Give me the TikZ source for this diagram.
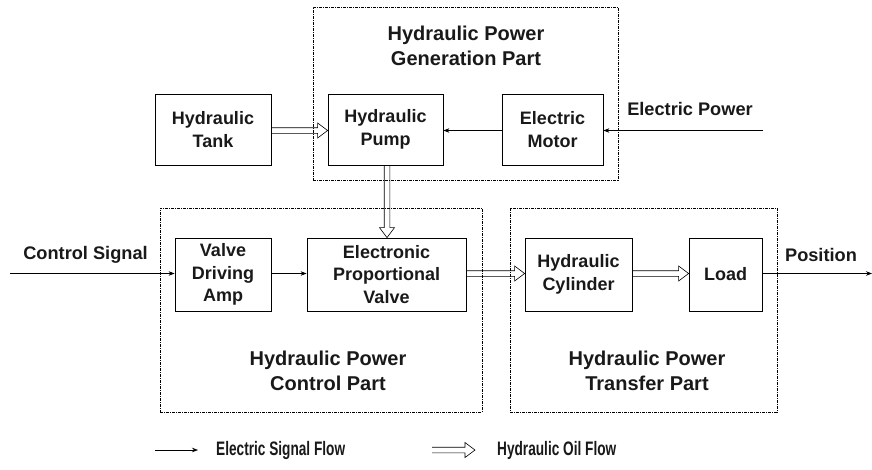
\documentclass[tikz,border=0pt]{standalone}
\usepackage{fontspec}
\setmainfont{Liberation Sans}
\usetikzlibrary{arrows.meta,calc}
\begin{document}
\begin{tikzpicture}[x=1pt,y=-1pt,
  txt/.style={font=\bfseries\fontsize{18.2}{22.5}\selectfont, align=center, inner sep=0, text=black!90},
  blk/.style={txt, font=\bfseries\fontsize{18}{22.5}\selectfont, draw, line width=0.8pt},
  title/.style={txt, font=\bfseries\fontsize{20}{25}\selectfont},
  legtxt/.style={txt, font=\bfseries\fontsize{19.5}{22}\selectfont},
  grp/.style={draw, line width=0.6pt, dash pattern=on 3pt off 1pt on 1pt off 1pt, inner sep=0},
  sig/.style={line width=0.7pt, -{Stealth[length=6pt,width=4.5pt]}},
  oilh/.style={line width=0.6pt, line join=miter, to path={
     ($(\tikztostart)+(0,-2.8)$) -- ($(\tikztotarget)+(-10,-2.8)$) -- ($(\tikztotarget)+(-10,-7.5)$)
     -- (\tikztotarget) -- ($(\tikztotarget)+(-10,7.5)$) -- ($(\tikztotarget)+(-10,2.8)$) -- ($(\tikztostart)+(0,2.8)$)}},
  oilv/.style={line width=0.6pt, line join=miter, to path={
     ($(\tikztostart)+(-2.8,0)$) -- ($(\tikztotarget)+(-2.8,-10)$) -- ($(\tikztotarget)+(-7.5,-10)$)
     -- (\tikztotarget) -- ($(\tikztotarget)+(7.5,-10)$) -- ($(\tikztotarget)+(2.8,-10)$) -- ($(\tikztostart)+(2.8,0)$)}}
]
\useasboundingbox (0,0) rectangle (872,469);
% groups
\node[grp, minimum width=305pt, minimum height=173pt] (gen) at (465.5,93.5) {};
\node[grp, minimum width=322pt, minimum height=204pt] (ctrl) at (321,310) {};
\node[grp, minimum width=267pt, minimum height=204pt] (trans) at (643.5,310) {};
\node[title] (gent) at (466,45.5) {Hydraulic Power\\Generation Part};
\node[title] (ctrlt) at (328,370.5) {Hydraulic Power\\Control Part};
\node[title] (transt) at (647,370.5) {Hydraulic Power\\Transfer Part};
% blocks
\node[blk, minimum width=116pt, minimum height=71pt] (tank) at (213,129.5) {Hydraulic\\Tank};
\node[blk, minimum width=115pt, minimum height=71pt] (pump) at (385.5,129.5) {Hydraulic\\Pump};
\node[blk, minimum width=101pt, minimum height=71pt] (motor) at (552.5,129.5) {Electric\\Motor};
\node[blk, minimum width=96pt, minimum height=73pt] (amp) at (223,274.5) {Valve\\Driving\\Amp};
\node[blk, minimum width=159pt, minimum height=73pt] (valve) at (386.5,274.5) {Electronic\\Proportional\\Valve};
\node[blk, minimum width=107pt, minimum height=73pt] (cyl) at (578.5,274.5) {Hydraulic\\Cylinder};
\node[blk, minimum width=73pt, minimum height=73pt] (load) at (725.5,274.5) {Load};
% labels
\node[txt] (ep) at (690,109) {Electric Power};
\node[txt] (cs) at (85.5,255) {Control Signal};
\node[txt] (pos) at (821,255) {Position};
\coordinate (epin) at (763,130.5);
\coordinate (csin) at (10,273.5);
\coordinate (posout) at (872,273.5);
% connectors
\draw[sig] (epin) -- (motor.east |- epin);
\draw[sig] (motor.west |- epin) -- (pump.east |- epin);
\draw[sig] (csin) -- (amp.west |- csin);
\draw[sig] (amp.east |- csin) -- (valve.west |- csin);
\draw[sig] (load.east |- csin) -- (posout);
\draw[oilh] (tank.east |- epin) to (pump.west |- epin);
\draw[oilv] ($(pump.south)+(1.5,0)$) to ($(valve.north)+(0.5,0)$);
\draw[oilh] (valve.east |- csin) to (cyl.west |- csin);
\draw[oilh] (cyl.east |- csin) to (load.west |- csin);
% legend
\coordinate (l1a) at (155,450);
\coordinate (l1b) at (198,450);
\coordinate (l2a) at (432,450);
\coordinate (l2b) at (475,450);
\draw[sig] (l1a) -- (l1b);
\draw[oilh] (l2a) to (l2b);
\node[legtxt, anchor=west] (l1t) at (216,450) {\scalebox{0.7}[1]{Electric Signal Flow}};
\node[legtxt, anchor=west] (l2t) at (497,450) {\scalebox{0.7}[1]{Hydraulic Oil Flow}};
\end{tikzpicture}
\end{document}
